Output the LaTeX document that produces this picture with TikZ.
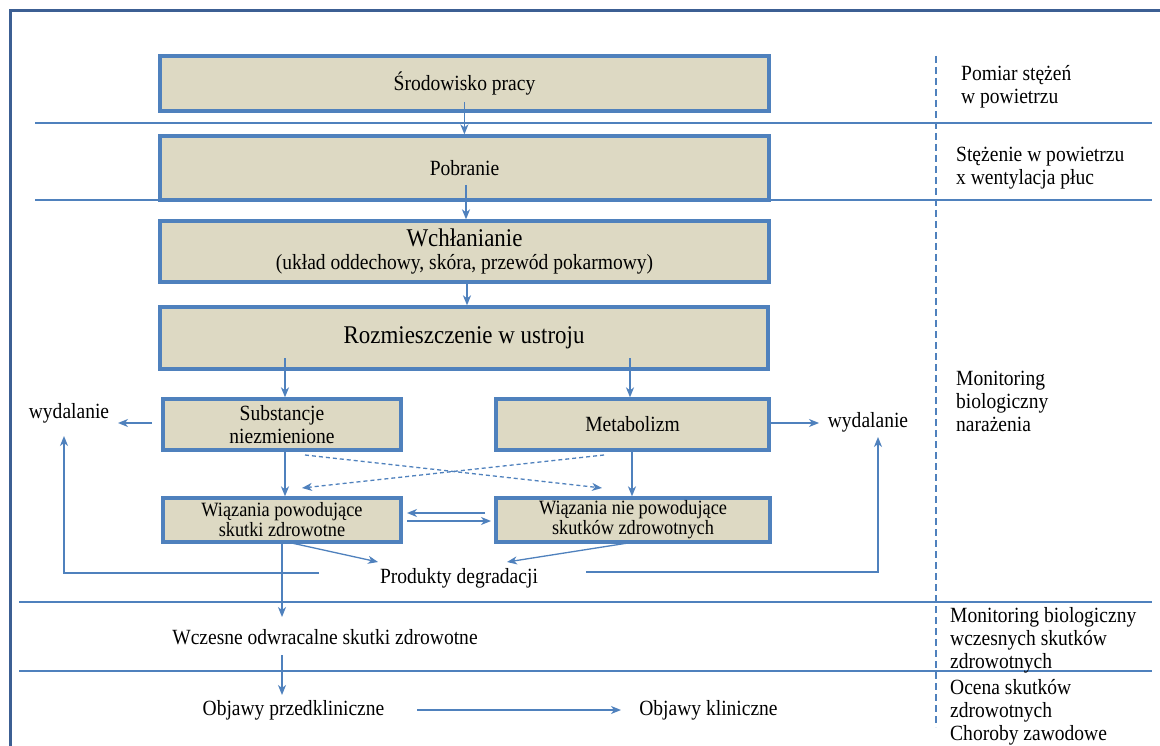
\documentclass[tikz,border=0pt]{standalone}
\usepackage{fontspec}
\setmainfont{Liberation Serif}[FakeStretch=0.9]
\usetikzlibrary{arrows.meta}
\definecolor{boxfill}{HTML}{DDD9C3}
\definecolor{boxline}{HTML}{4F81BD}
\definecolor{frameline}{HTML}{3C5F93}
\newcommand{\fN}{\fontsize{21.7}{23}\selectfont}
\newcommand{\fL}{\fontsize{25.5}{24}\selectfont}
\newcommand{\fS}{\fontsize{20.3}{20}\selectfont}
\begin{document}
\begin{tikzpicture}[x=1pt,y=-1pt,
  box/.style={draw=boxline, line width=3.3pt, fill=boxfill, inner sep=0pt, align=center, font=\fN},
  lbl/.style={inner sep=0pt, align=center, font=\fN},
  rlbl/.style={inner sep=0pt, align=left, anchor=west, font=\fN},
  arr/.style={draw=boxline, line width=1.3pt, -{Stealth[length=10pt,width=8pt,inset=3pt]}},
  darr/.style={arr, dash pattern=on 4pt off 3pt},
  ln/.style={draw=boxline, line width=1.3pt},
  sepline/.style={draw=boxline, line width=1.1pt},
]
\useasboundingbox (0,0) rectangle (1160,746);
\fill[white] (0,0) rectangle (1160,746);
% frame
\draw[frameline, line width=3pt] (10,746) -- (10,11) -- (1160,11);
% separators
\draw[sepline] (35,123) -- (1152,123);
\draw[sepline] (35,200) -- (1152,200);
\draw[sepline] (19,602) -- (1152,602);
\draw[sepline] (19,671) -- (1152,671);
\draw[boxline, line width=1.3pt, dash pattern=on 7pt off 4pt] (936,56) -- (936,727);

% boxes
\node[box, minimum width=609pt, minimum height=55pt] (b1) at (464.5,83.5) {Środowisko pracy};
\node[box, minimum width=609pt, minimum height=64pt] (b2) at (464.5,168) {Pobranie};
\node[box, minimum width=609pt, minimum height=61pt] (b3) at (464.5,251.5) {{\fL Wchłanianie}\\(układ oddechowy, skóra, przewód pokarmowy)};
\node[box, minimum width=608pt, minimum height=62pt] (b4) at (464,338) {\fL Rozmieszczenie w ustroju};
\node[box, minimum width=238pt, minimum height=51pt] (b5) at (282,424.5) {Substancje\\niezmienione};
\node[box, minimum width=273pt, minimum height=51pt] (b6) at (632.5,424.5) {Metabolizm};
\node[box, minimum width=238pt, minimum height=44pt, font=\fS] (b7) at (282,520) {Wiązania powodujące\\skutki zdrowotne};
\node[box, minimum width=274pt, minimum height=44pt, font=\fS] (b8) at (633,520) {Wiązania nie powodujące\\skutków zdrowotnych};

% text nodes
\node[lbl] (wydL) at (69,413) {wydalanie};
\node[lbl] (wydR) at (868,422) {wydalanie};
\node[lbl] (prod) at (459,578) {Produkty degradacji};
\node[lbl] (wcz) at (325,637) {Wczesne odwracalne skutki zdrowotne};
\node[lbl] (objp) at (293.5,710) {Objawy przedkliniczne};
\node[lbl] (objk) at (708.5,710) {Objawy kliniczne};

\node[rlbl] (r1) at (961,86.5) {Pomiar stężeń\\w powietrzu};
\node[rlbl] (r2) at (956,168.5) {Stężenie w powietrzu\\x wentylacja płuc};
\node[rlbl] (r3) at (956,401) {Monitoring\\biologiczny\\narażenia};
\node[rlbl] (r4) at (950,640) {Monitoring biologiczny\\wczesnych skutków\\zdrowotnych};
\node[rlbl] (r5) at (950,712) {Ocena skutków\\zdrowotnych\\Choroby zawodowe};

% coordinates
\coordinate (c12) at (464.4,102);
\coordinate (c23) at (466,185);
\coordinate (c34) at (467,284);
\coordinate (c45) at (285,358);
\coordinate (c46) at (630,358);
\coordinate (c5L) at (152,423);
\coordinate (c5Lend) at (118,423);
\coordinate (c6R) at (819,423);
\coordinate (c68) at (632,452);
\coordinate (d1s) at (305,455);
\coordinate (d1e) at (602,488);
\coordinate (d2s) at (604,455);
\coordinate (d2e) at (302,488);
\coordinate (h1s) at (485,513);
\coordinate (h1e) at (407,513);
\coordinate (h2s) at (407,521);
\coordinate (h2e) at (491,521);
\coordinate (p7s) at (287,542);
\coordinate (p7e) at (378,562);
\coordinate (p8s) at (628,543);
\coordinate (p8e) at (507,562);
\coordinate (pl) at (319,573);
\coordinate (plc) at (64,573);
\coordinate (plt) at (64,436);
\coordinate (pr) at (586,572);
\coordinate (prc) at (878,572);
\coordinate (prt) at (878,437);
\coordinate (w1) at (282,617);
\coordinate (w2) at (282,655);
\coordinate (w3) at (282,695);
\coordinate (o1) at (417,710);
\coordinate (o2) at (621,710);

% connectors
\draw[arr] (c12) -- (c12 |- b2.north);
\draw[arr] (c23) -- (c23 |- b3.north);
\draw[arr] (c34) -- (c34 |- b4.north);
\draw[arr] (c45) -- (c45 |- b5.north);
\draw[arr] (c46) -- (c46 |- b6.north);
\draw[arr] (c5L) -- (c5Lend);
\draw[arr] (b6.east |- c6R) -- (c6R);
\draw[arr] (b5.south -| c45) -- (c45 |- b7.north);
\draw[arr] (c68) -- (c68 |- b8.north);
\draw[darr] (d1s) -- (d1e);
\draw[darr] (d2s) -- (d2e);
\draw[arr] (h1s) -- (h1e);
\draw[arr] (h2s) -- (h2e);
\draw[arr] (p7s) -- (p7e);
\draw[arr] (p8s) -- (p8e);
\draw[arr] (pl) -- (plc) -- (plt);
\draw[arr] (pr) -- (prc) -- (prt);
\draw[arr] (b7.south -| w1) -- (w1);
\draw[arr] (w2) -- (w3);
\draw[arr] (o1) -- (o2);
\end{tikzpicture}
\end{document}
